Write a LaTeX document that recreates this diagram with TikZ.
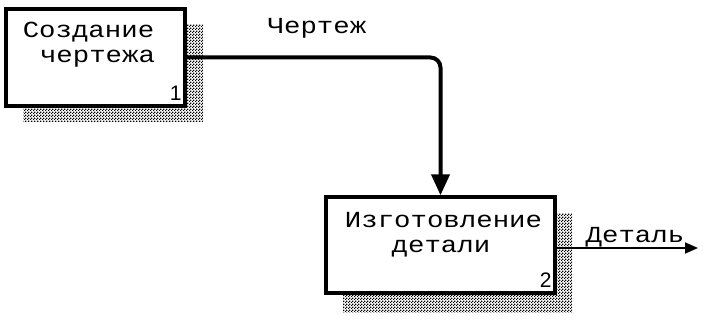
\documentclass[tikz,border=0pt]{standalone}
\usepackage{fontspec}
\newfontfamily\boxfont[FakeStretch=1.19]{Liberation Mono}
\newfontfamily\numfont{Liberation Sans}
\usetikzlibrary{calc,arrows.meta,patterns}
% fine checkerboard used for the drop shadows
\pgfdeclarepatternformonly{finecheck}{\pgfpointorigin}{\pgfpoint{3pt}{3pt}}{\pgfpoint{3pt}{3pt}}{%
  \pgfpathrectangle{\pgfpointorigin}{\pgfpoint{1.5pt}{1.5pt}}%
  \pgfpathrectangle{\pgfpoint{1.5pt}{1.5pt}}{\pgfpoint{1.5pt}{1.5pt}}%
  \pgfusepath{fill}}
\tikzset{
  actbox/.style={draw=black, line width=3.4pt, fill=white, inner sep=0pt},
  shadowbox/.style={pattern=finecheck, pattern color=black},
  lbl/.style={font=\boxfont\fontsize{23}{23}\selectfont, inner sep=0pt,
    text height=14pt, text depth=4pt},
  num/.style={font=\numfont\fontsize{21}{21}\selectfont, inner sep=0pt, anchor=south east},
  thickarrow/.style={line width=4pt, rounded corners=10pt, -{Triangle[length=21pt,width=18pt]}},
  thinarrow/.style={line width=1.6pt, -{Triangle[length=13pt,width=11pt]}}
}
\begin{document}
\begin{tikzpicture}[x=1pt,y=-1pt]
\useasboundingbox (0,0) rectangle (705,321);
% shadows
\fill[shadowbox] (23,25) rectangle (203,122);
\fill[shadowbox] (343,213) rectangle (572,312);
% activity boxes
\node[actbox, minimum width=179pt, minimum height=97pt] (b1) at (95.5,57.5) {};
\node[actbox, minimum width=229pt, minimum height=96pt] (b2) at (440.5,245) {};
% box texts
\node[lbl] (t1a) at (88.5,33) {Создание};
\node[lbl] (t1b) at (97.5,58) {чертежа};
\node[lbl] (t2a) at (443.5,222) {Изготовление};
\node[lbl] (t2b) at (441,247) {детали};
\node[num] (n1) at ($(b1.south east)+(-5,-7)$) {1};
\node[num] (n2) at ($(b2.south east)+(-5,-7)$) {2};
% connectors
\coordinate (out) at (698,248);
\draw[thickarrow] (b1.east) -| (b2.north);
\draw[thinarrow] (b2.east |- out) -- (out);
\node[lbl] (l1) at (317,29) {Чертеж};
\node[lbl] (l2) at (635,237) {Деталь};
\end{tikzpicture}
\end{document}
